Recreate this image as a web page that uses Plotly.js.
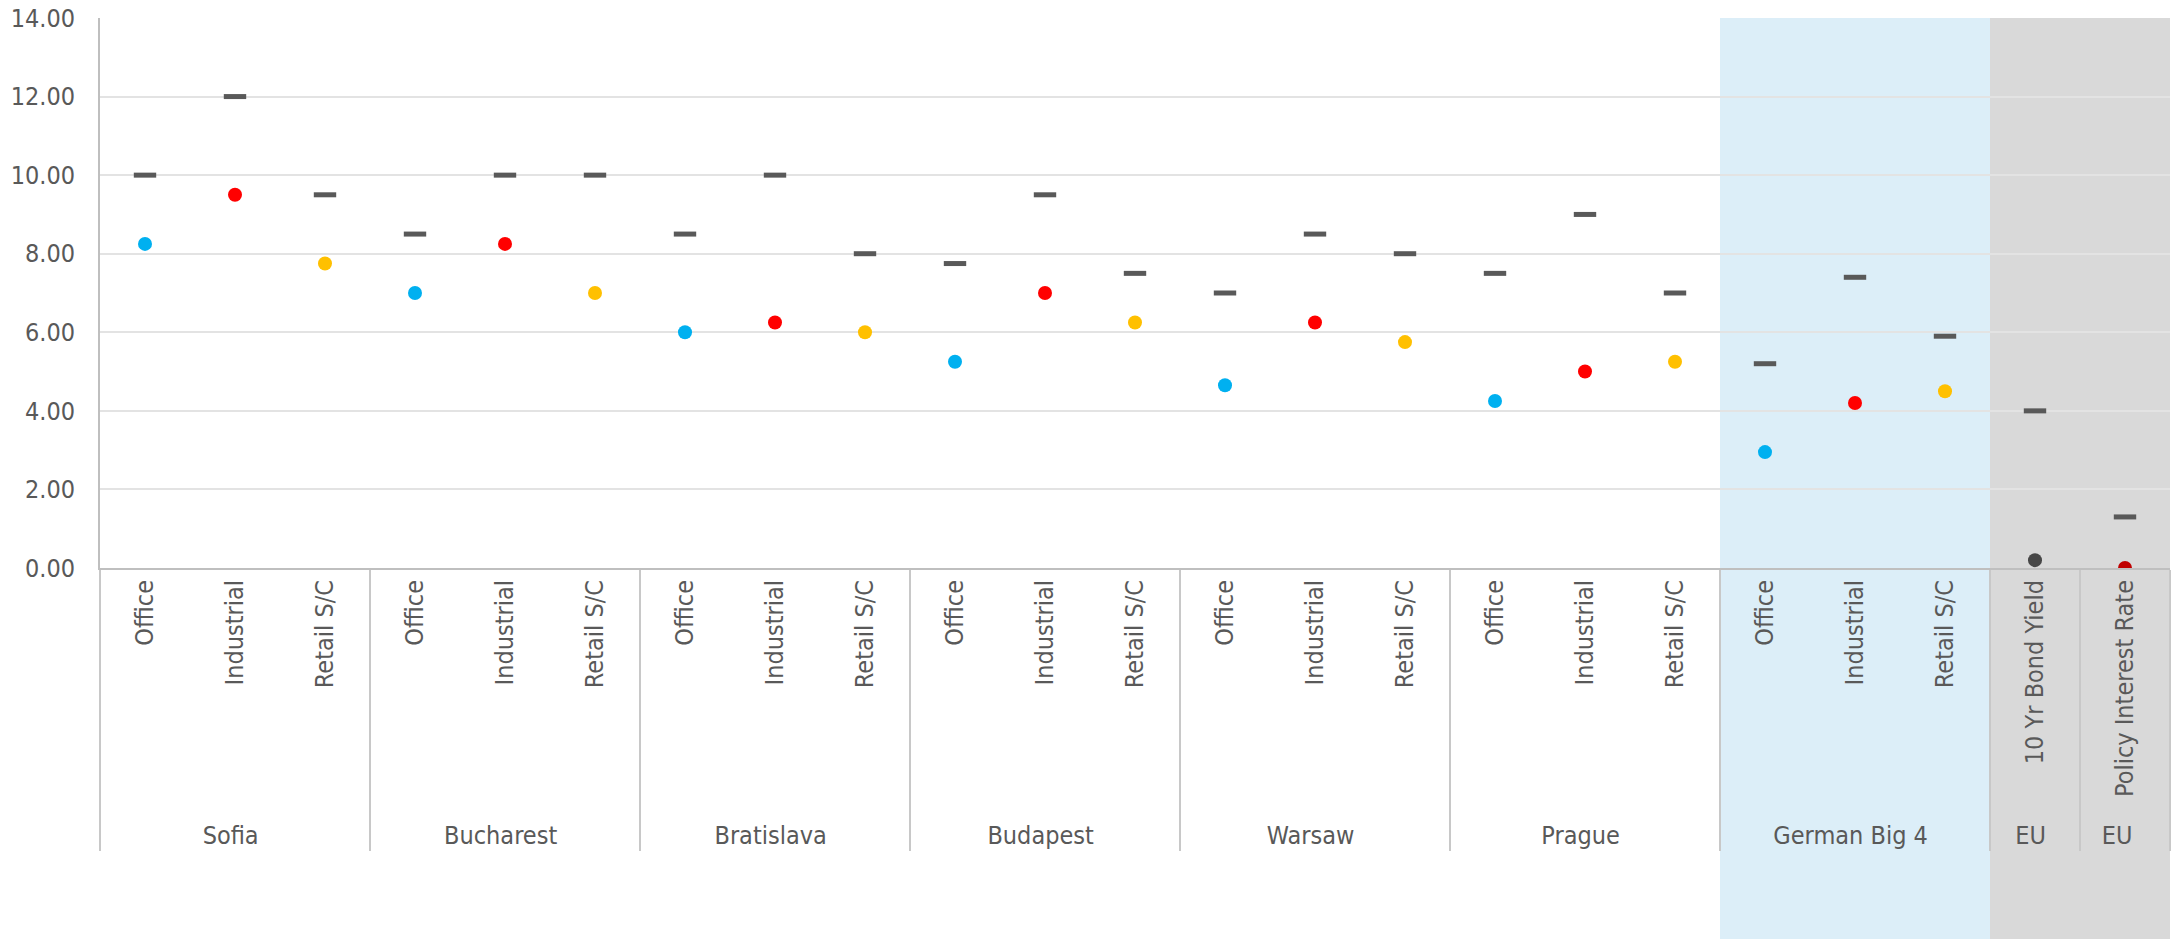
<!DOCTYPE html>
<html>
<head>
<meta charset="utf-8">
<script src="https://cdn.plot.ly/plotly-3.0.1.min.js"></script>
<style>html,body{margin:0;padding:0;background:#fff;}#chart{width:2172px;height:939px;}</style>
</head>
<body>
<div id="chart"></div>
<script>
// Category structure (outer group, inner label)
const groups = [
  "Sofia","Sofia","Sofia",
  "Bucharest","Bucharest","Bucharest",
  "Bratislava","Bratislava","Bratislava",
  "Budapest","Budapest","Budapest",
  "Warsaw","Warsaw","Warsaw",
  "Prague","Prague","Prague",
  "German Big 4","German Big 4","German Big 4",
  "EU","EU "
];
const subcats = [
  "Office","Industrial","Retail S/C",
  "Office","Industrial","Retail S/C",
  "Office","Industrial","Retail S/C",
  "Office","Industrial","Retail S/C",
  "Office","Industrial","Retail S/C",
  "Office","Industrial","Retail S/C",
  "Office","Industrial","Retail S/C",
  "10 Yr Bond Yield","Policy Interest Rate"
];
// Dot values
const pointValues = [
  8.25, 9.5, 7.75,
  7.0, 8.25, 7.0,
  6.0, 6.25, 6.0,
  5.25, 7.0, 6.25,
  4.65, 6.25, 5.75,
  4.25, 5.0, 5.25,
  2.95, 4.2, 4.5,
  0.2, 0.0
];
// Dash values
const dashValues = [
  10.0, 12.0, 9.5,
  8.5, 10.0, 10.0,
  8.5, 10.0, 8.0,
  7.75, 9.5, 7.5,
  7.0, 8.5, 8.0,
  7.5, 9.0, 7.0,
  5.2, 7.4, 5.9,
  4.0, 1.3
];
const yTicks = [0, 2, 4, 6, 8, 10, 12, 14];

const colorBySub = {
  "Office": "#00B0F0",
  "Industrial": "#FF0000",
  "Retail S/C": "#FFC000",
  "10 Yr Bond Yield": "#474747",
  "Policy Interest Rate": "#C00000"
};
const pointColors = subcats.map(s => colorBySub[s]);

const FONT = "'DejaVu Sans Condensed', 'Liberation Sans Narrow', 'Liberation Sans', Arial, sans-serif";
const textColor = "#595959";

const x = [groups, subcats];

const traces = [
  {
    type: "scatter", mode: "markers", x: x, y: dashValues,
    marker: { symbol: "line-ew", size: 16, color: "#595959", line: { color: "#595959", width: 5 } },
    hoverinfo: "y", showlegend: false
  },
  {
    type: "scatter", mode: "markers", x: x, y: pointValues,
    marker: { symbol: "circle", size: 14, color: pointColors, line: { width: 0 } },
    hoverinfo: "y", showlegend: false
  }
];

const firstGerman = groups.indexOf("German Big 4");
const firstEU = groups.indexOf("EU");
const nCat = groups.length;

const layout = {
  width: 2172, height: 939,
  margin: { l: 100, r: 2, t: 18, b: 371, pad: 0 },
  paper_bgcolor: "#ffffff",
  plot_bgcolor: "rgba(0,0,0,0)",
  showlegend: false,
  font: { family: FONT, color: textColor, size: 25 },
  xaxis: {
    type: "multicategory",
    tickangle: -90,
    ticks: "",
    showgrid: false,
    showline: true, linecolor: "#bfbfbf", linewidth: 2,
    showdividers: true, dividercolor: "#c8c8c8", dividerwidth: 2,
    tickfont: { family: FONT, size: 25, color: textColor },
    zeroline: false,
    range: [-0.5, nCat - 0.5]
  },
  yaxis: {
    range: [0, 14],
    tickvals: yTicks,
    tickformat: ".2f",
    showgrid: true, gridcolor: "#e3e3e3", gridwidth: 2,
    showline: true, linecolor: "#bfbfbf", linewidth: 2,
    zeroline: false,
    ticks: "",
    ticklabelstandoff: 18,
    tickfont: { family: FONT, size: 25, color: textColor }
  },
  shapes: [
    { type: "rect", layer: "below", xref: "x", yref: "paper",
      x0: firstGerman - 0.5, x1: firstEU - 0.5, y0: -0.7, y1: 1,
      fillcolor: "#DCEEF8", line: { width: 0 } },
    { type: "rect", layer: "below", xref: "x", yref: "paper",
      x0: firstEU - 0.5, x1: nCat - 0.5, y0: -0.7, y1: 1,
      fillcolor: "#D9D9D9", line: { width: 0 } }
  ]
};

Plotly.newPlot("chart", traces, layout, { displayModeBar: false, staticPlot: true });
</script>
</body>
</html>
